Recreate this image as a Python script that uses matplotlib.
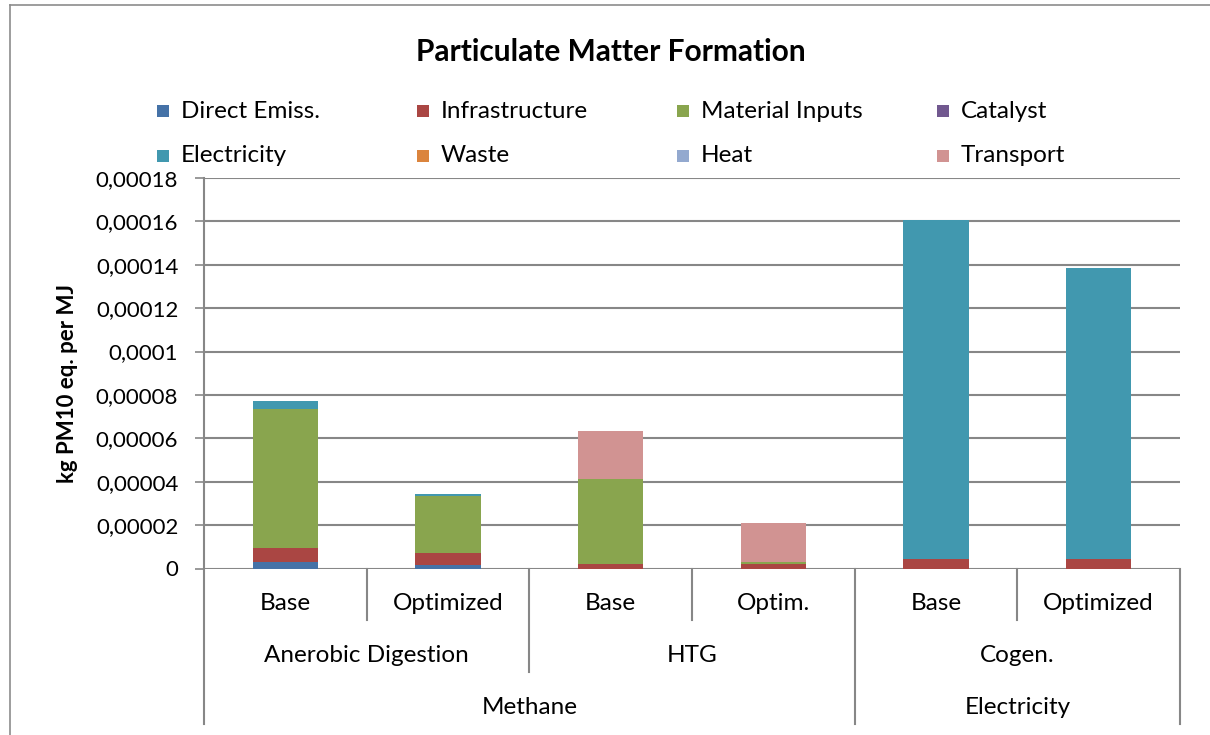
import matplotlib
matplotlib.use("Agg")
import matplotlib.pyplot as plt
from matplotlib.patches import Rectangle
from matplotlib.lines import Line2D
from matplotlib.transforms import blended_transform_factory
import numpy as np

plt.rcParams['font.family'] = ['Lato', 'DejaVu Sans']

# Scenario labels (three-level category axis)
scenarios = ["Base", "Optimized", "Base", "Optim.", "Base", "Optimized"]
processes = ["Anerobic Digestion", "HTG", "Cogen."]
products = ["Methane", "Electricity"]

# Contributions, kg PM10 eq. per MJ
direct_emiss = [3.0e-6, 1.4e-6, 0.0, 0.0, 0.0, 0.0]
infrastructure = [6.5e-6, 5.8e-6, 2.1e-6, 2.1e-6, 4.3e-6, 4.3e-6]
material_inputs = [6.39e-5, 2.64e-5, 3.91e-5, 0.9e-6, 0.0, 0.0]
catalyst = [0.0, 0.0, 0.0, 0.0, 0.0, 0.0]
electricity = [3.7e-6, 0.9e-6, 0.0, 0.0, 1.562e-4, 1.344e-4]
waste = [0.0, 0.0, 0.0, 0.0, 0.0, 0.0]
heat = [0.0, 0.0, 0.2e-6, 0.0, 0.0, 0.0]
transport = [0.0, 0.0, 2.19e-5, 1.81e-5, 0.0, 0.0]

series_names = ["Direct Emiss.", "Infrastructure", "Material Inputs", "Catalyst",
                "Electricity", "Waste", "Heat", "Transport"]
series_values = [direct_emiss, infrastructure, material_inputs, catalyst,
                 electricity, waste, heat, transport]
series_colors = ["#4572A7", "#AA4643", "#89A54E", "#71588F",
                 "#4198AF", "#DB843D", "#93A9CF", "#D19392"]

y_ticks = [0, 0.00002, 0.00004, 0.00006, 0.00008, 0.0001, 0.00012, 0.00014, 0.00016, 0.00018]
y_tick_labels = ["0", "0,00002", "0,00004", "0,00006", "0,00008", "0,0001",
                 "0,00012", "0,00014", "0,00016", "0,00018"]

W, H = 1210, 735
fig = plt.figure(figsize=(W / 100, H / 100), dpi=100)
fig.patch.set_facecolor("white")

left, right = 204 / W, 1180 / W
bottom, top = 1 - 568.5 / H, 1 - 178 / H
ax = fig.add_axes([left, bottom, right - left, top - bottom])

grid_col = "#878787"
x = np.arange(len(scenarios))
base = np.zeros(len(scenarios))
for name, vals, col in zip(series_names, series_values, series_colors):
    vals = np.array(vals)
    ax.bar(x, vals, width=0.4, bottom=base, color=col, edgecolor="none", zorder=3)
    base += vals

ax.set_xlim(-0.5, len(scenarios) - 0.5)
ax.set_ylim(0, 0.00018)
ax.set_yticks(y_ticks)
ax.set_yticklabels(y_tick_labels, fontsize=16)
ax.set_xticks([])
ax.yaxis.grid(True, color=grid_col, linewidth=1.5, zorder=0)
ax.tick_params(axis="y", length=6.5, width=1.2, color=grid_col, pad=12)
for s in ["top", "right", "bottom", "left"]:
    ax.spines[s].set_visible(False)

ax.set_ylabel("kg PM10 eq. per MJ", fontsize=16, fontweight="bold")
ax.yaxis.label.set_va("center")
ax.yaxis.set_label_coords(-(204 - 68) / (1180 - 204), 0.475)

# Multi-level category axis
ax_h = 568.5 - 178
def ay(py):
    return (568.5 - py) / ax_h

tr = blended_transform_factory(ax.transData, ax.transAxes)
line_kw = dict(color=grid_col, linewidth=1.5, transform=tr, clip_on=False, zorder=1)

# outer edges and y axis line
ax.add_line(Line2D([-0.5, -0.5], [ay(724), 1.0], **line_kw))
ax.add_line(Line2D([5.5, 5.5], [ay(724), 0.0], **line_kw))
# separators between scenarios, processes and products
for xs in [0.5, 2.5, 4.5]:
    ax.add_line(Line2D([xs, xs], [0.0, ay(620)], **line_kw))
ax.add_line(Line2D([1.5, 1.5], [0.0, ay(672)], **line_kw))
ax.add_line(Line2D([3.5, 3.5], [0.0, ay(724)], **line_kw))

cat_fs = 17.5
for i, lab in enumerate(scenarios):
    ax.text(i, ay(603), lab, transform=tr, ha="center", va="center", fontsize=cat_fs)
for j, lab in enumerate(processes):
    ax.text(2 * j + 0.5, ay(655), lab, transform=tr, ha="center", va="center", fontsize=cat_fs)
ax.text(1.5, ay(708), products[0], transform=tr, ha="center", va="center", fontsize=cat_fs)
ax.text(4.5, ay(708), products[1], transform=tr, ha="center", va="center", fontsize=cat_fs)

# Title
fig.text(611 / W, 1 - 52 / H, "Particulate Matter Formation", ha="center", va="center",
         fontsize=21.5, fontweight="bold")

# Legend: two rows of four entries
for k, (name, col) in enumerate(zip(series_names, series_colors)):
    row, colidx = divmod(k, 4)
    px = 157 + 260 * colidx
    py = 111 + 45 * row
    fig.patches.append(Rectangle((px / W, 1 - (py + 6) / H), 12 / W, 12 / H,
                                 transform=fig.transFigure, facecolor=col,
                                 edgecolor="none"))
    fig.text((px + 24) / W, 1 - py / H, name, ha="left", va="center", fontsize=17.5)

# Chart border
fig.add_artist(Line2D([10 / W, 1.0], [1 - 5 / H, 1 - 5 / H], color="#8C8C8C",
                      linewidth=1.2, transform=fig.transFigure))
fig.add_artist(Line2D([10 / W, 10 / W], [0.0, 1 - 5 / H], color="#8C8C8C",
                      linewidth=1.2, transform=fig.transFigure))

fig.savefig("out.png", dpi=100)
